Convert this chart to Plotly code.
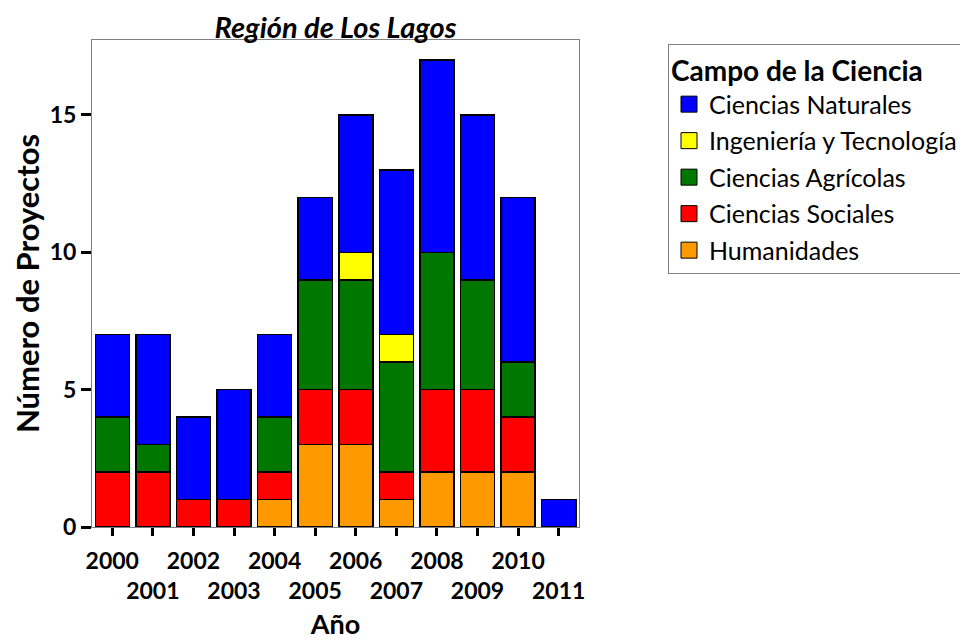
import plotly.graph_objects as go

years = [2000, 2001, 2002, 2003, 2004, 2005, 2006, 2007, 2008, 2009, 2010, 2011]
humanidades = [0, 0, 0, 0, 1, 3, 3, 1, 2, 2, 2, 0]
sociales = [2, 2, 1, 1, 1, 2, 2, 1, 3, 3, 2, 0]
agricolas = [2, 1, 0, 0, 2, 4, 4, 4, 5, 4, 2, 0]
ingenieria = [0, 0, 0, 0, 0, 0, 1, 1, 0, 0, 0, 0]
naturales = [3, 4, 3, 4, 3, 3, 5, 6, 7, 6, 6, 1]

series = [
    ("Humanidades", humanidades, "#FF9900"),
    ("Ciencias Sociales", sociales, "#FF0000"),
    ("Ciencias Agrícolas", agricolas, "#007800"),
    ("Ingeniería y Tecnología", ingenieria, "#FFFF00"),
    ("Ciencias Naturales", naturales, "#0000FF"),
]

tick_labels = [str(y) if i % 2 == 0 else "\u00a0<br>" + str(y) for i, y in enumerate(years)]

FONT = "Lato"
fig = go.Figure()
for name, vals, col in series:
    fig.add_trace(go.Bar(
        x=years, y=vals, name=name, showlegend=False,
        marker=dict(color=col, line=dict(color="black", width=1.5)),
    ))
# legend entries (larger swatches), top of stack first
for name, vals, col in reversed(series):
    fig.add_trace(go.Scatter(
        x=[None], y=[None], mode="markers", name=name, legendgroup=name,
        marker=dict(symbol="square", size=16, color=col, line=dict(color="black", width=1)),
    ))

# the page body adds an 8px offset; margins compensate for it
fig.update_layout(
    width=968, height=644,
    barmode="stack", bargap=0.16,
    plot_bgcolor="white", paper_bgcolor="white",
    margin=dict(l=84, r=397, t=32, b=125, autoexpand=False),
    font=dict(family=FONT, color="black"),
    title=dict(text="<b><i>Región de Los Lagos</i></b>", x=(84 + 571) / 2 / 968, xanchor="center",
               y=1 - 20 / 644, yanchor="middle", font=dict(size=29, family=FONT)),
    xaxis=dict(
        tickmode="array", tickvals=years, ticktext=tick_labels, tickangle=0, automargin=False,
        range=[1999.5, 2011.5], showline=True, linecolor="#808080", linewidth=1, mirror=True,
        ticks="outside", ticklen=8, tickwidth=3, tickcolor="black", ticklabelstandoff=5,
        tickfont=dict(size=23, family=FONT, weight="bold"),
        title=dict(text="<b>Año</b>", font=dict(size=27, family=FONT), standoff=12),
        showgrid=False, zeroline=False,
    ),
    yaxis=dict(
        range=[0, 17.73], tickvals=[0, 5, 10, 15], showline=True, linecolor="#808080", linewidth=1,
        mirror=True, ticks="outside", ticklen=10, tickwidth=3, tickcolor="black", automargin=False,
        tickfont=dict(size=23, family=FONT, weight="bold"),
        title=dict(text="<b>Número de Proyectos</b>", font=dict(size=31, family=FONT), standoff=10),
        showgrid=False, zeroline=False,
    ),
    legend=dict(
        x=(668 - 92) / 487, xanchor="left", y=(527 - 44) / 487, yanchor="top",
        bordercolor="#808080", borderwidth=1, bgcolor="white",
        title=dict(text="<b>Campo de la Ciencia</b>", font=dict(size=28, family=FONT), side="top"),
        font=dict(size=25, family=FONT), traceorder="grouped", tracegroupgap=1,
        itemwidth=30,
    ),
)

fig.write_html("out.html")
